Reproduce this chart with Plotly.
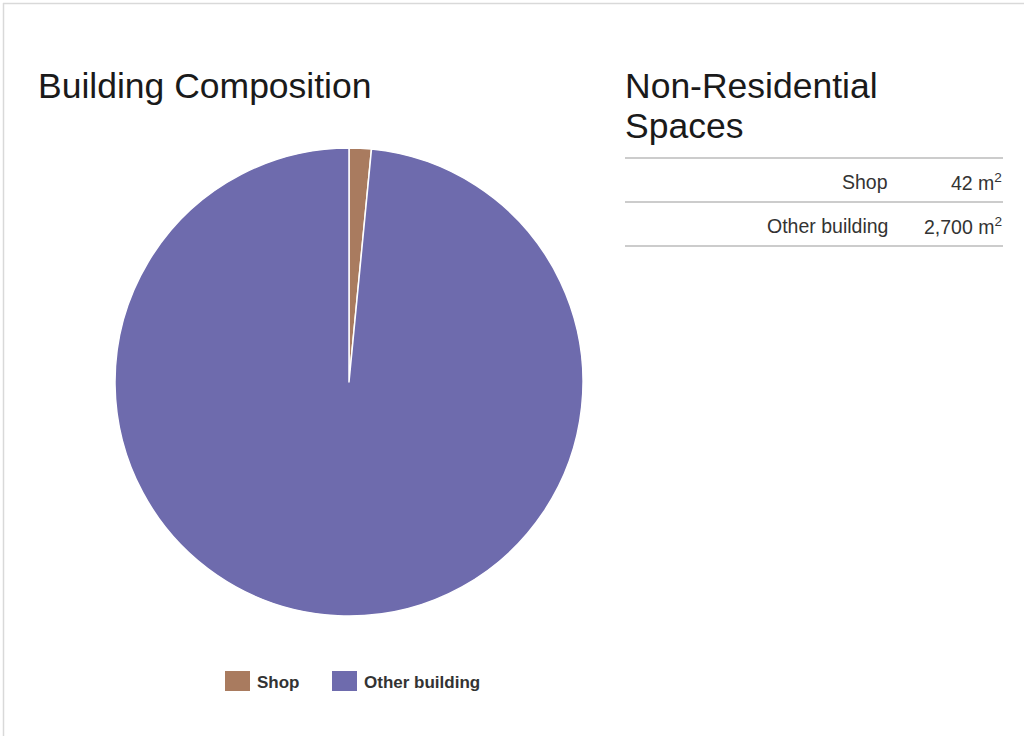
import plotly.graph_objects as go

categories = ["Shop", "Other building"]
areas = [42, 2700]
area_labels = ["42 m<sup>2</sup>", "2,700 m<sup>2</sup>"]
colors = ["#A97B5F", "#6E6BAD"]

W, H = 1024, 736
def px(x): return x / W
def py(y): return 1 - y / H

fig = go.Figure()
fig.add_trace(go.Pie(
    labels=categories, values=areas, sort=False, direction="clockwise", rotation=0,
    marker=dict(colors=colors, line=dict(color="white", width=1.5)),
    textinfo="none", hoverinfo="label+value", showlegend=False,
    domain=dict(x=[px(115), px(583)], y=[py(616), py(148)]),
))

shapes = []
annotations = []
FONT = "Liberation Sans, Arial, Helvetica, sans-serif"

# frame
shapes.append(dict(type="line", xref="paper", yref="paper", x0=px(3), x1=1, y0=py(3.5), y1=py(3.5),
                   line=dict(color="#d9d9d9", width=1.5)))
shapes.append(dict(type="line", xref="paper", yref="paper", x0=px(3.5), x1=px(3.5), y0=py(3), y1=0,
                   line=dict(color="#d9d9d9", width=1.5)))

# titles
annotations.append(dict(text="Building Composition", x=px(36), y=py(86), xref="paper", yref="paper",
                        xanchor="left", yanchor="middle", showarrow=False,
                        font=dict(family=FONT, size=35.5, color="#1a1a1a")))
for txt, yc in [("Non-Residential", 86), ("Spaces", 126)]:
    annotations.append(dict(text=txt, x=px(623), y=py(yc), xref="paper", yref="paper",
                            xanchor="left", yanchor="middle", align="left", showarrow=False,
                            font=dict(family=FONT, size=35.5, color="#1a1a1a")))

# table
for yl in [158, 202, 246]:
    shapes.append(dict(type="line", xref="paper", yref="paper", x0=px(625), x1=px(1003), y0=py(yl), y1=py(yl),
                       line=dict(color="#cccccc", width=2)))
for i, (c, a) in enumerate(zip(categories, area_labels)):
    yc = 182 + 44 * i
    annotations.append(dict(text=c, x=px(890), y=py(yc), xref="paper", yref="paper",
                            xanchor="right", yanchor="middle", showarrow=False,
                            font=dict(family=FONT, size=19.5, color="#333333")))
    annotations.append(dict(text=a, x=px(1004), y=py(yc), xref="paper", yref="paper",
                            xanchor="right", yanchor="middle", showarrow=False,
                            font=dict(family=FONT, size=19.5, color="#333333")))

# custom legend
leg_x = [225, 332]
for i, c in enumerate(categories):
    x0 = leg_x[i]
    shapes.append(dict(type="rect", xref="paper", yref="paper", x0=px(x0), x1=px(x0 + 25),
                       y0=py(691), y1=py(671), fillcolor=colors[i], line=dict(width=0)))
    annotations.append(dict(text="<b>%s</b>" % c, x=px(x0 + 30), y=py(682), xref="paper", yref="paper",
                            xanchor="left", yanchor="middle", showarrow=False,
                            font=dict(family=FONT, size=17, color="#333333")))

fig.update_layout(
    width=W, height=H, margin=dict(l=0, r=0, t=0, b=0),
    paper_bgcolor="white", plot_bgcolor="white",
    shapes=shapes, annotations=annotations,
)
fig.write_html("out.html", config={"displayModeBar": False},
               post_script="document.body.style.margin='0';document.body.style.overflow='hidden';")
